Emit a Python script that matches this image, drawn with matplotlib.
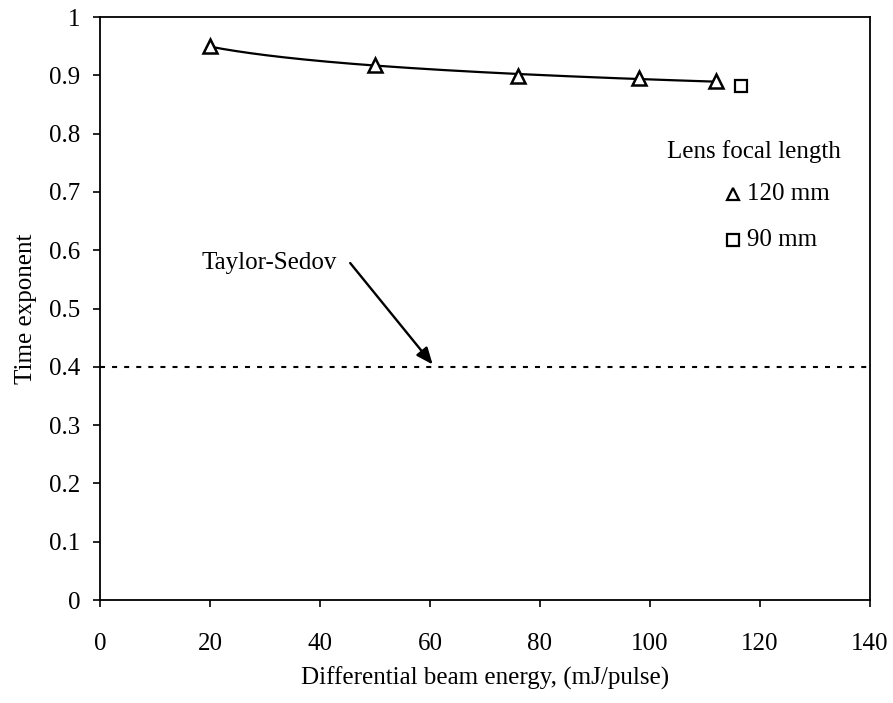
import numpy as np
import matplotlib
matplotlib.use("Agg")
import matplotlib.pyplot as plt

# Measured time exponents
energy_120 = [20, 50, 76, 98, 112]
exponent_120 = [0.950, 0.917, 0.898, 0.895, 0.891]
energy_90 = [116.5]
exponent_90 = [0.881]
taylor_sedov = 0.4

x_ticks = [0, 20, 40, 60, 80, 100, 120, 140]
y_ticks = [0, 0.1, 0.2, 0.3, 0.4, 0.5, 0.6, 0.7, 0.8, 0.9, 1]
y_tick_labels = ["0", "0.1", "0.2", "0.3", "0.4", "0.5", "0.6", "0.7", "0.8", "0.9", "1"]

plt.rcParams["font.family"] = ["Liberation Serif", "DejaVu Serif"]
FS = 18

fig = plt.figure(figsize=(8.93, 7.03), dpi=100)
ax = fig.add_axes([0.112, 0.1465, 0.862, 0.8293])

# Power-law trend through the 120 mm points
coef = np.polyfit(np.log(energy_120), np.log(exponent_120), 1)
xf = np.linspace(min(energy_120), max(energy_120), 200)
ax.plot(xf, np.exp(coef[1]) * xf ** coef[0], color="black", lw=1.6, zorder=2)

ax.plot(energy_120, exponent_120, linestyle="none", marker="^", ms=10,
        mfc="white", mec="black", mew=1.8, zorder=3)
ax.plot(energy_90, exponent_90, linestyle="none", marker="s", ms=9,
        mfc="white", mec="black", mew=1.6, zorder=3)

# Taylor-Sedov blast-wave exponent
ax.axhline(taylor_sedov, color="black", lw=1.5, linestyle=(0, (2.4, 3.4)), zorder=1)
ax.annotate("", xy=(60.5, 0.404), xytext=(45.5, 0.578),
            arrowprops=dict(arrowstyle="-|>,head_length=1.0,head_width=0.42",
                            color="black", lw=1.7, shrinkA=0, shrinkB=0))
ax.text(18.5, 0.578, "Taylor-Sedov", fontsize=FS, ha="left", va="center")

# Legend built from text and marker samples
ax.text(0.737, 0.769, "Lens focal length", transform=ax.transAxes,
        fontsize=FS, ha="left", va="center")
ax.plot([0.822], [0.697], transform=ax.transAxes, marker="^", ms=8.5,
        mfc="white", mec="black", mew=1.6, clip_on=False)
ax.text(0.840, 0.697, "120 mm", transform=ax.transAxes, fontsize=FS,
        ha="left", va="center")
ax.plot([0.822], [0.618], transform=ax.transAxes, marker="s", ms=8,
        mfc="white", mec="black", mew=1.6, clip_on=False)
ax.text(0.840, 0.618, "90 mm", transform=ax.transAxes, fontsize=FS,
        ha="left", va="center")

ax.set_xlim(0, 140)
ax.set_ylim(0, 1)
ax.set_xticks(x_ticks)
ax.set_yticks(y_ticks)
ax.set_yticklabels(y_tick_labels)
ax.tick_params(axis="both", direction="out", length=5, width=1.2,
               labelsize=FS, colors="black")
ax.tick_params(axis="x", pad=19)
ax.tick_params(axis="y", pad=9)
for s in ax.spines.values():
    s.set_linewidth(1.3)
    s.set_color("black")

ax.set_xlabel("Differential beam energy, (mJ/pulse)", fontsize=FS)
ax.xaxis.set_label_coords(0.5, -0.115)
ax.set_ylabel("Time exponent", fontsize=FS)
ax.yaxis.set_label_coords(-0.082, 0.5)

fig.savefig("out.png", dpi=100)
